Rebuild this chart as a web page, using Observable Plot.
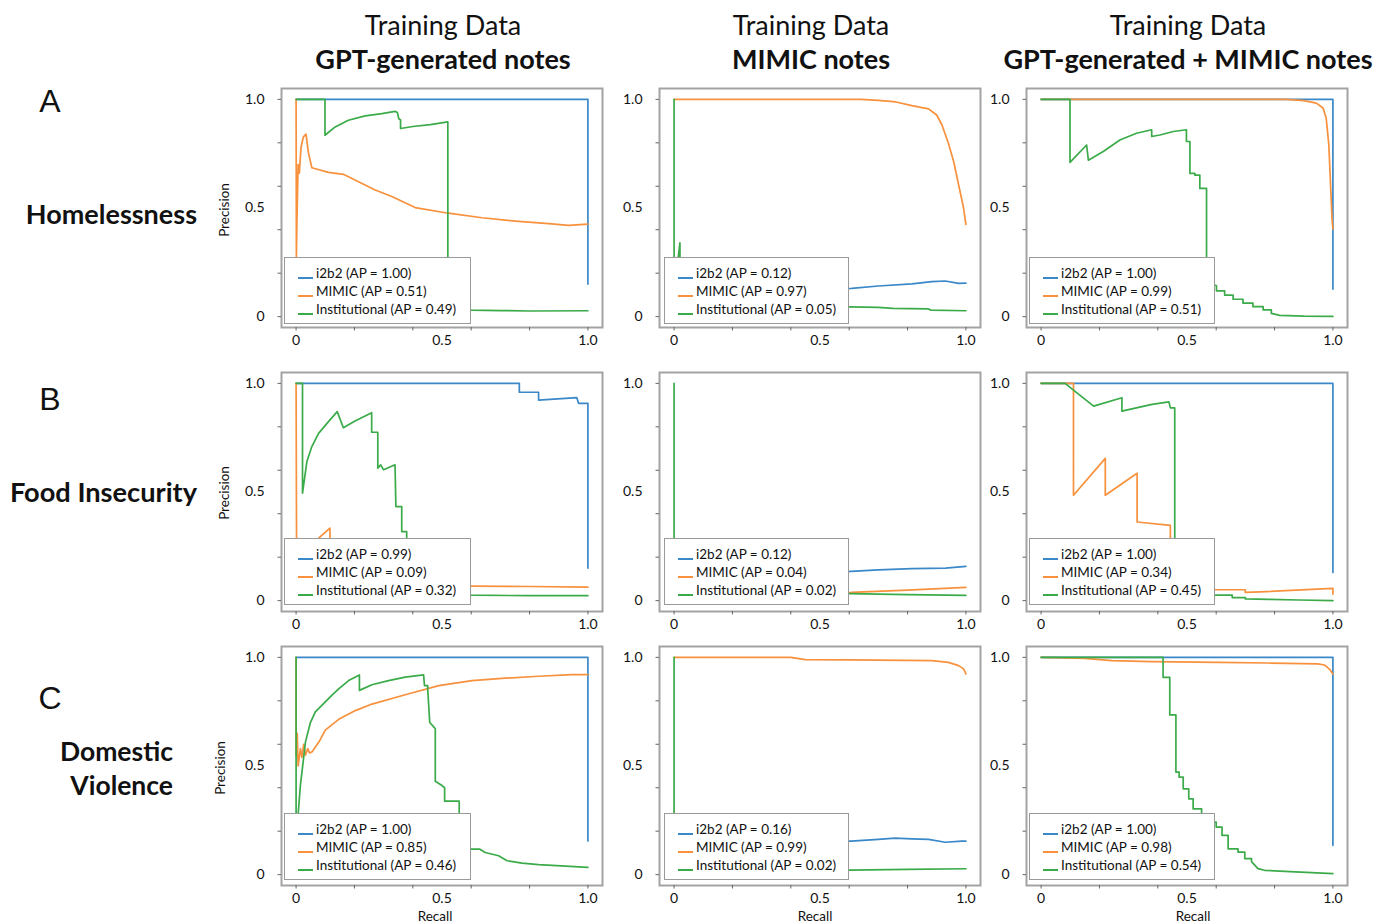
<!DOCTYPE html>
<html><head><meta charset="utf-8">
<script src="https://cdn.jsdelivr.net/npm/d3@7"></script>
<script src="https://cdn.jsdelivr.net/npm/@observablehq/plot@0.6"></script>
<style>
html,body{margin:0;padding:0;background:#fff;}
#root{position:relative;width:1374px;height:924px;overflow:hidden;background:#fff;font-family:Lato,"Open Sans",sans-serif;color:#111;}
.t{position:absolute;white-space:nowrap;line-height:1;}
.panel{position:absolute;}
.legend{position:absolute;background:#fff;border:1px solid #9a9a9a;box-sizing:border-box;}
.lrow{position:absolute;left:0;font-size:13.5px;line-height:1;white-space:nowrap;}
.lsample{position:absolute;height:2px;}
</style></head><body><div id="root"></div>
<script>
// ---------- text content ----------
const titlePrefix = "Training Data";
const columnTitles = ["GPT-generated notes", "MIMIC notes", "GPT-generated + MIMIC notes"];
const rowLetters = ["A", "B", "C"];
const rowNames = [["Homelessness"], ["Food Insecurity"], ["Domestic", "Violence"]];
const seriesNames = ["i2b2", "MIMIC", "Institutional"];
const yAxisTitle = "Precision";
const xAxisTitle = "Recall";
const tickLabelValues = [0, 0.5, 1.0];
const minorTickValues = [0, 0.2, 0.4, 0.6, 0.8, 1.0];

// ---------- average precision per panel (rows A,B,C; columns 1..3) ----------
const apA = [[1.00, 0.51, 0.49], [0.12, 0.97, 0.05], [1.00, 0.99, 0.51]];
const apB = [[0.99, 0.09, 0.32], [0.12, 0.04, 0.02], [1.00, 0.34, 0.45]];
const apC = [[1.00, 0.85, 0.46], [0.16, 0.99, 0.02], [1.00, 0.98, 0.54]];

// ---------- PR curves: [recall, precision] ----------
// Row A: Homelessness
const A1_i2b2 = [[0,1],[1,1],[1,0.15]];
const A1_mimic = [[0,1],[0.001,0.27],[0.003,0.45],[0.007,0.70],[0.011,0.66],[0.017,0.78],[0.025,0.827],[0.034,0.84],[0.042,0.756],[0.054,0.685],[0.111,0.664],[0.162,0.655],[0.214,0.621],[0.271,0.583],[0.328,0.553],[0.408,0.502],[0.522,0.476],[0.637,0.455],[0.751,0.44],[0.865,0.428],[0.934,0.42],[1,0.426]];
const A1_inst = [[0,1],[0.099,1],[0.099,0.835],[0.134,0.873],[0.179,0.904],[0.237,0.924],[0.294,0.934],[0.339,0.945],[0.347,0.94],[0.352,0.911],[0.358,0.905],[0.358,0.866],[0.40,0.875],[0.46,0.884],[0.52,0.896],[0.52,0.05],[0.55,0.035],[0.6,0.03],[0.7,0.028],[0.8,0.026],[1,0.027]];

const A2_i2b2 = [[0.02,0.1],[0.3,0.12],[0.609,0.13],[0.70,0.141],[0.815,0.151],[0.883,0.161],[0.929,0.164],[0.975,0.153],[1,0.154]];
const A2_mimic = [[0,1],[0.64,1],[0.70,0.995],[0.76,0.988],[0.815,0.971],[0.872,0.956],[0.90,0.928],[0.918,0.882],[0.94,0.798],[0.958,0.714],[0.975,0.607],[0.992,0.50],[1,0.424]];
const A2_inst = [[0,1],[0,0.1],[0.02,0.34],[0.021,0.08],[0.1,0.06],[0.3,0.05],[0.6,0.045],[0.7,0.043],[0.75,0.038],[0.87,0.036],[0.88,0.03],[1,0.027]];

const A3_i2b2 = [[0,1],[1,1],[1,0.127]];
const A3_mimic = [[0,1],[0.84,1],[0.90,0.994],[0.943,0.983],[0.966,0.96],[0.977,0.914],[0.986,0.79],[0.992,0.605],[0.997,0.45],[1,0.404]];
const A3_inst = [[0,1],[0.099,1],[0.099,0.71],[0.156,0.79],[0.162,0.72],[0.213,0.76],[0.27,0.813],[0.327,0.844],[0.379,0.86],[0.379,0.829],[0.407,0.836],[0.453,0.852],[0.498,0.86],[0.498,0.806],[0.51,0.806],[0.51,0.659],[0.527,0.659],[0.527,0.651],[0.544,0.651],[0.544,0.59],[0.567,0.59],[0.567,0.16],[0.601,0.142],[0.601,0.119],[0.629,0.119],[0.629,0.099],[0.658,0.099],[0.658,0.08],[0.692,0.08],[0.692,0.062],[0.726,0.062],[0.726,0.046],[0.761,0.046],[0.761,0.031],[0.789,0.031],[0.789,0.015],[0.818,0.006],[0.9,0.002],[1,0.001]];

// Row B: Food Insecurity
const B1_i2b2 = [[0,1],[0.765,1],[0.765,0.959],[0.831,0.959],[0.831,0.923],[0.962,0.934],[0.968,0.908],[1,0.908],[1,0.15]];
const B1_mimic = [[0,1],[0.002,0.06],[0.03,0.2],[0.065,0.273],[0.116,0.334],[0.117,0.1],[0.3,0.075],[0.6,0.067],[0.8,0.065],[1,0.062]];
const B1_inst = [[0,1],[0.022,1],[0.022,0.495],[0.037,0.64],[0.054,0.709],[0.077,0.77],[0.111,0.824],[0.141,0.87],[0.162,0.796],[0.202,0.827],[0.259,0.865],[0.259,0.775],[0.28,0.775],[0.28,0.61],[0.29,0.625],[0.30,0.602],[0.339,0.625],[0.342,0.433],[0.362,0.433],[0.362,0.318],[0.379,0.318],[0.379,0.27],[0.39,0.2],[0.42,0.1],[0.5,0.05],[0.6,0.025],[0.8,0.023],[1,0.023]];

const B2_i2b2 = [[0.05,0.1],[0.3,0.12],[0.607,0.135],[0.70,0.142],[0.815,0.147],[0.93,0.15],[1,0.158]];
const B2_mimic = [[0.05,0.03],[0.3,0.035],[0.607,0.038],[0.8,0.048],[1,0.061]];
const B2_inst = [[0,1],[0,0.05],[0.05,0.035],[0.3,0.03],[0.6,0.032],[0.8,0.028],[1,0.024]];

const B3_i2b2 = [[0,1],[1,1],[1,0.13]];
const B3_mimic = [[0,1],[0.111,1],[0.111,0.485],[0.22,0.655],[0.22,0.485],[0.329,0.586],[0.329,0.362],[0.443,0.346],[0.443,0.1],[0.5,0.06],[0.598,0.05],[0.70,0.05],[0.70,0.038],[0.75,0.04],[1,0.056],[1,0.03]];
const B3_inst = [[0,1],[0.082,1],[0.18,0.895],[0.277,0.934],[0.277,0.872],[0.38,0.903],[0.438,0.915],[0.443,0.887],[0.458,0.887],[0.458,0.2],[0.5,0.06],[0.598,0.025],[0.655,0.025],[0.655,0.014],[0.70,0.014],[0.70,0.008],[0.78,0.006],[0.884,0.003],[1,0]];

// Row C: Domestic Violence
const C1_i2b2 = [[0,1],[1,1],[1,0.155]];
const C1_mimic = [[0,1],[0,0.55],[0.004,0.65],[0.007,0.50],[0.015,0.58],[0.02,0.54],[0.026,0.60],[0.032,0.55],[0.04,0.58],[0.046,0.56],[0.055,0.566],[0.078,0.61],[0.10,0.665],[0.146,0.715],[0.203,0.755],[0.26,0.785],[0.374,0.828],[0.489,0.87],[0.603,0.893],[0.717,0.904],[0.831,0.913],[0.945,0.921],[1,0.921]];
const C1_inst = [[0,1],[0,0.1],[0.005,0.05],[0.007,0.277],[0.015,0.414],[0.023,0.505],[0.032,0.61],[0.049,0.70],[0.066,0.749],[0.089,0.78],[0.123,0.826],[0.146,0.855],[0.18,0.893],[0.217,0.919],[0.217,0.848],[0.26,0.874],[0.317,0.893],[0.374,0.909],[0.437,0.919],[0.44,0.87],[0.451,0.87],[0.451,0.855],[0.458,0.70],[0.477,0.672],[0.477,0.43],[0.5,0.41],[0.509,0.40],[0.509,0.338],[0.559,0.338],[0.559,0.25],[0.58,0.16],[0.599,0.117],[0.63,0.117],[0.648,0.102],[0.694,0.087],[0.723,0.064],[0.774,0.053],[0.831,0.046],[1,0.033]];

const C2_i2b2 = [[0.05,0.15],[0.3,0.155],[0.607,0.154],[0.70,0.162],[0.757,0.168],[0.815,0.165],[0.872,0.162],[0.929,0.149],[0.986,0.154],[1,0.154]];
const C2_mimic = [[0,1],[0.4,1],[0.449,0.99],[0.6,0.988],[0.883,0.985],[0.94,0.977],[0.975,0.962],[0.992,0.947],[1,0.924]];
const C2_inst = [[0,1],[0,0.03],[0.2,0.02],[0.6,0.021],[0.8,0.024],[1,0.027]];

const C3_i2b2 = [[0,1],[1,1],[1,0.135]];
const C3_mimic = [[0,1],[0.15,0.995],[0.242,0.985],[0.38,0.98],[0.607,0.977],[0.78,0.974],[0.949,0.97],[0.971,0.965],[0.988,0.946],[1,0.923]];
const C3_inst = [[0,1],[0.418,1],[0.418,0.908],[0.441,0.908],[0.441,0.735],[0.462,0.735],[0.462,0.472],[0.473,0.472],[0.473,0.449],[0.487,0.449],[0.487,0.395],[0.506,0.395],[0.506,0.349],[0.521,0.349],[0.521,0.303],[0.55,0.303],[0.55,0.28],[0.575,0.28],[0.575,0.242],[0.6,0.242],[0.6,0.219],[0.62,0.219],[0.62,0.181],[0.641,0.181],[0.641,0.119],[0.675,0.119],[0.675,0.104],[0.698,0.104],[0.698,0.074],[0.721,0.074],[0.721,0.06],[0.743,0.028],[0.766,0.02],[0.835,0.015],[1,0.005]];

// ---------- assembly ----------
const curves = [
  [[A1_i2b2, A1_mimic, A1_inst], [A2_i2b2, A2_mimic, A2_inst], [A3_i2b2, A3_mimic, A3_inst]],
  [[B1_i2b2, B1_mimic, B1_inst], [B2_i2b2, B2_mimic, B2_inst], [B3_i2b2, B3_mimic, B3_inst]],
  [[C1_i2b2, C1_mimic, C1_inst], [C2_i2b2, C2_mimic, C2_inst], [C3_i2b2, C3_mimic, C3_inst]]
];
const apValues = [apA, apB, apC];
const colors = ["#3a88c8", "#f7913d", "#3bab4a"];

// layout (page pixels)
const frameLeft = [281.4, 658.5, 1025.9];
const frameTop = [88.4, 371.5, 645.8];
const frameW = 321, frameH = 239;
const mL = 50, mR = 10, mT = 10, mB = 30;
const legendLeft = [284, 664, 1029];
const legendWidth = [187, 185, 186];
const legendTop = [257, 538, 813];

const root = document.getElementById("root");
function addText(str, x, y, css, anchor) {
  const d = document.createElement("div");
  d.className = "t";
  d.textContent = str;
  d.style.left = x + "px";
  d.style.top = y + "px";
  const tx = anchor === "end" ? "-100%" : anchor === "start" ? "0" : "-50%";
  d.style.transform = `translate(${tx},-50%)`;
  for (const k in css) d.style[k] = css[k];
  root.appendChild(d);
  return d;
}
const fmt = d => d === 0 ? "0" : d.toFixed(1);

for (let r = 0; r < 3; r++) {
  for (let c = 0; c < 3; c++) {
    const marks = [
      Plot.frame({stroke: "#a3a3a3", strokeWidth: 2}),
      Plot.axisX(minorTickValues, {tickSize: 3.5, tickFormat: () => "", stroke: "#666", label: null}),
      Plot.axisY(minorTickValues, {tickSize: 3.5, tickFormat: () => "", stroke: "#666", label: null}),
      Plot.axisX(tickLabelValues, {tickSize: 0, tickPadding: 8, tickFormat: fmt, fontSize: 14, fill: "#111", label: null}),
      Plot.axisY(tickLabelValues, {tickSize: 0, tickPadding: 17, tickFormat: fmt, fontSize: 14, fill: "#111", label: null})
    ];
    curves[r][c].forEach((pts, s) => {
      marks.push(Plot.line(pts, {x: d => d[0], y: d => d[1], stroke: colors[s], strokeWidth: 1.7}));
    });
    const svg = Plot.plot({
      width: frameW + mL + mR, height: frameH + mT + mB,
      marginLeft: mL, marginRight: mR, marginTop: mT, marginBottom: mB,
      x: {domain: [-0.05, 1.05]},
      y: {domain: [-0.05, 1.05]},
      style: {fontFamily: "Lato, sans-serif", fontSize: "14px", background: "transparent", color: "#111"},
      marks
    });
    svg.classList.add("panel");
    svg.style.left = (frameLeft[c] - mL) + "px";
    svg.style.top = (frameTop[r] - mT) + "px";
    root.appendChild(svg);

    // legend
    const lg = document.createElement("div");
    lg.className = "legend";
    lg.style.left = legendLeft[c] + "px";
    lg.style.top = legendTop[r] + "px";
    lg.style.width = legendWidth[c] + "px";
    lg.style.height = "67px";
    seriesNames.forEach((name, s) => {
      const cy = 16 + s * 18;
      const smp = document.createElement("div");
      smp.className = "lsample";
      smp.style.left = "13px"; smp.style.width = "15px";
      smp.style.top = (cy + 3) + "px";
      smp.style.background = colors[s];
      lg.appendChild(smp);
      const tx = document.createElement("div");
      tx.className = "lrow";
      tx.textContent = `${name} (AP = ${apValues[r][c][s].toFixed(2)})`;
      tx.style.left = "31px";
      tx.style.top = (cy - 7) + "px";
      lg.appendChild(tx);
    });
    root.appendChild(lg);
  }
}

// column titles
const colCenters = [443, 811, 1188];
columnTitles.forEach((t, c) => {
  addText(titlePrefix, colCenters[c], 24, {fontSize: "27px"});
  addText(t, colCenters[c], 58, {fontSize: "27px", fontWeight: "700"});
});
// row letters and names
const letterY = [101, 399, 698];
rowLetters.forEach((L, r) => addText(L, 50, letterY[r], {fontSize: "32px", fontFamily: "'Liberation Sans', Arial, sans-serif"}));
addText(rowNames[0][0], 197, 213, {fontSize: "27px", fontWeight: "700"}, "end");
addText(rowNames[1][0], 197, 492, {fontSize: "27.2px", fontWeight: "700"}, "end");
addText(rowNames[2][0], 173, 751, {fontSize: "26.5px", fontWeight: "700"}, "end");
addText(rowNames[2][1], 173, 785, {fontSize: "26.5px", fontWeight: "700"}, "end");
// axis titles
const precX = [225, 225, 221], precY = [210, 493, 768];
for (let r = 0; r < 3; r++) {
  const d = addText(yAxisTitle, precX[r], precY[r], {fontSize: "13.5px"});
  d.style.transform = "translate(-50%,-50%) rotate(-90deg)";
}
[435, 815, 1193].forEach(x => addText(xAxisTitle, x, 917, {fontSize: "13.5px"}));
</script></body></html>
